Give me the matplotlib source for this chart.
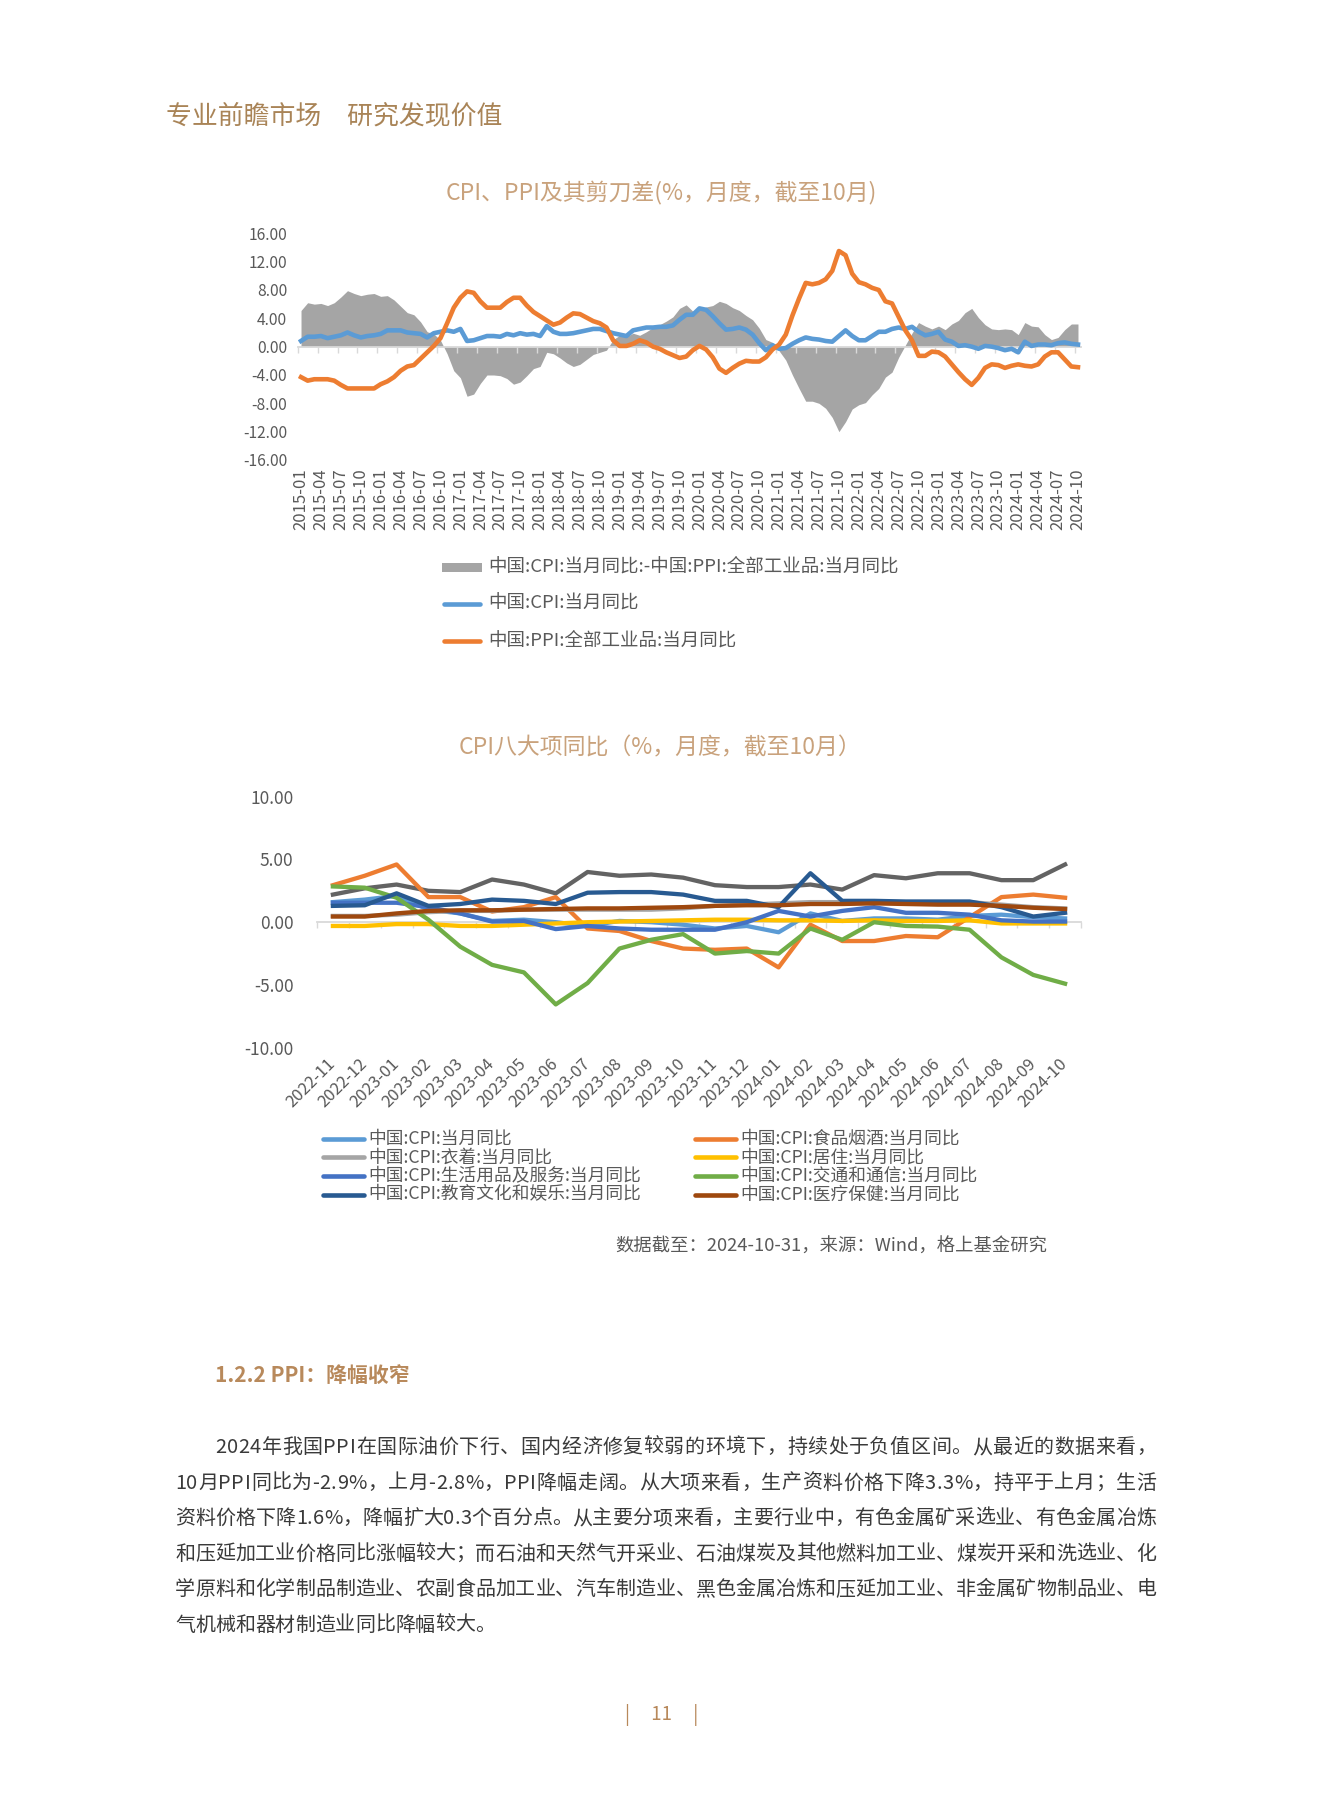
import numpy as np
import pandas as pd
import matplotlib
matplotlib.use('Agg')
import matplotlib.pyplot as plt
from matplotlib.lines import Line2D
from matplotlib.patches import Rectangle
from matplotlib.font_manager import FontProperties

plt.rcParams['font.family'] = ['Noto Sans CJK SC', 'DejaVu Sans']
plt.rcParams['axes.unicode_minus'] = False

# ---------------- data: chart 1 ----------------
months1 = pd.period_range('2015-01', '2024-10', freq='M').strftime('%Y-%m').tolist()
cpi = [0.8, 1.4, 1.4, 1.5, 1.2, 1.4, 1.6, 2.0, 1.6, 1.3, 1.5, 1.6,
       1.8, 2.3, 2.3, 2.3, 2.0, 1.9, 1.8, 1.3, 1.9, 2.1, 2.3, 2.1,
       2.5, 0.8, 0.9, 1.2, 1.5, 1.5, 1.4, 1.8, 1.6, 1.9, 1.7, 1.8,
       1.5, 2.9, 2.1, 1.8, 1.8, 1.9, 2.1, 2.3, 2.5, 2.5, 2.2, 1.9,
       1.7, 1.5, 2.3, 2.5, 2.7, 2.7, 2.8, 2.8, 3.0, 3.8, 4.5, 4.5,
       5.4, 5.2, 4.3, 3.3, 2.4, 2.5, 2.7, 2.4, 1.7, 0.5, -0.5, 0.2,
       -0.3, -0.2, 0.4, 0.9, 1.3, 1.1, 1.0, 0.8, 0.7, 1.5, 2.3, 1.5,
       0.9, 0.9, 1.5, 2.1, 2.1, 2.5, 2.7, 2.5, 2.8, 2.1, 1.6, 1.8,
       2.1, 1.0, 0.7, 0.1, 0.2, 0.0, -0.3, 0.1, 0.0, -0.2, -0.5, -0.3,
       -0.8, 0.7, 0.1, 0.3, 0.3, 0.2, 0.5, 0.6, 0.4, 0.3]
ppi = [-4.3, -4.8, -4.6, -4.6, -4.6, -4.8, -5.4, -5.9, -5.9, -5.9, -5.9, -5.9,
       -5.3, -4.9, -4.3, -3.4, -2.8, -2.6, -1.7, -0.8, 0.1, 1.2, 3.3, 5.5,
       6.9, 7.8, 7.6, 6.4, 5.5, 5.5, 5.5, 6.3, 6.9, 6.9, 5.8, 4.9,
       4.3, 3.7, 3.1, 3.4, 4.1, 4.7, 4.6, 4.1, 3.6, 3.3, 2.7, 0.9,
       0.1, 0.1, 0.4, 0.9, 0.6, 0.0, -0.3, -0.8, -1.2, -1.6, -1.4, -0.5,
       0.1, -0.4, -1.5, -3.1, -3.7, -3.0, -2.4, -2.0, -2.1, -2.1, -1.5, -0.4,
       0.3, 1.7, 4.4, 6.8, 9.0, 8.8, 9.0, 9.5, 10.7, 13.5, 12.9, 10.3,
       9.1, 8.8, 8.3, 8.0, 6.4, 6.1, 4.2, 2.3, 0.9, -1.3, -1.3, -0.7,
       -0.8, -1.4, -2.5, -3.6, -4.6, -5.4, -4.4, -3.0, -2.5, -2.6, -3.0, -2.7,
       -2.5, -2.7, -2.8, -2.5, -1.4, -0.8, -0.8, -1.8, -2.8, -2.9]
spread = [5.1, 6.2, 6.0, 6.1, 5.8, 6.2, 7.0, 7.9, 7.5, 7.2, 7.4, 7.5,
          7.1, 7.2, 6.6, 5.7, 4.8, 4.5, 3.5, 2.1, 1.8, 0.9, -1.0, -3.4,
          -4.4, -7.0, -6.7, -5.2, -4.0, -4.0, -4.1, -4.5, -5.3, -5.0, -4.1, -3.1,
          -2.8, -0.8, -1.0, -1.6, -2.3, -2.8, -2.5, -1.8, -1.1, -0.8, -0.5, 1.0,
          1.6, 1.4, 1.9, 1.6, 2.1, 2.7, 3.1, 3.6, 4.2, 5.4, 5.9, 5.0,
          5.3, 5.6, 5.8, 6.4, 6.1, 5.5, 5.1, 4.4, 3.8, 2.6, 1.0, 0.6,
          -0.6, -1.9, -4.0, -5.9, -7.7, -7.7, -8.0, -8.7, -10.0, -12.0, -10.6, -8.8,
          -8.2, -7.9, -6.8, -5.9, -4.3, -3.6, -1.5, 0.2, 1.9, 3.4, 2.9, 2.5,
          2.9, 2.4, 3.2, 3.7, 4.8, 5.4, 4.1, 3.1, 2.5, 2.4, 2.5, 2.4,
          1.7, 3.4, 2.9, 2.8, 1.7, 1.0, 1.3, 2.4, 3.2, 3.2]
yticks1 = [-16, -12, -8, -4, 0, 4, 8, 12, 16]

# ---------------- data: chart 2 ----------------
months2 = pd.period_range('2022-11', '2024-10', freq='M').strftime('%Y-%m').tolist()
s_other = [2.2, 2.7, 3.0, 2.5, 2.4, 3.4, 3.0, 2.3, 4.0, 3.7, 3.8, 3.55,
           2.95, 2.8, 2.8, 3.0, 2.6, 3.75, 3.5, 3.9, 3.9, 3.35, 3.35, 4.6]
s_cpi = [1.6, 1.8, 2.1, 1.0, 0.7, 0.1, 0.2, 0.0, -0.3, 0.1, 0.0, -0.2,
         -0.5, -0.3, -0.8, 0.7, 0.1, 0.3, 0.3, 0.2, 0.5, 0.6, 0.4, 0.3]
s_food = [2.95, 3.7, 4.6, 2.0, 2.0, 0.85, 1.2, 2.0, -0.5, -0.7, -1.5, -2.1,
          -2.2, -2.1, -3.6, -0.2, -1.5, -1.5, -1.1, -1.2, 0.4, 2.0, 2.2, 1.95]
s_cloth = [0.5, 0.5, 0.6, 0.8, 0.9, 0.9, 1.0, 1.0, 1.0, 1.0, 1.0, 1.1,
           1.3, 1.4, 1.5, 1.6, 1.6, 1.6, 1.6, 1.6, 1.6, 1.4, 1.2, 1.1]
s_house = [-0.3, -0.3, -0.15, -0.15, -0.3, -0.3, -0.2, -0.1, 0.0, 0.05, 0.1, 0.15,
           0.2, 0.2, 0.15, 0.15, 0.1, 0.15, 0.1, 0.1, 0.15, -0.1, -0.1, -0.1]
s_goods = [1.55, 1.55, 1.55, 1.2, 0.7, 0.05, 0.1, -0.55, -0.3, -0.5, -0.6, -0.6,
           -0.6, 0.0, 0.9, 0.45, 0.9, 1.2, 0.75, 0.75, 0.6, 0.15, 0.05, 0.05]
s_trans = [2.85, 2.75, 1.95, 0.2, -1.95, -3.4, -4.0, -6.55, -4.85, -2.1, -1.4, -0.95,
           -2.5, -2.3, -2.5, -0.5, -1.4, 0.0, -0.3, -0.35, -0.6, -2.8, -4.2, -4.9]
s_edu = [1.3, 1.35, 2.3, 1.3, 1.45, 1.8, 1.7, 1.45, 2.35, 2.4, 2.4, 2.2,
         1.7, 1.7, 1.2, 3.9, 1.7, 1.7, 1.65, 1.65, 1.65, 1.2, 0.45, 0.75]
s_med = [0.45, 0.45, 0.7, 0.9, 0.95, 0.95, 1.0, 1.05, 1.1, 1.1, 1.15, 1.2,
         1.3, 1.35, 1.35, 1.45, 1.45, 1.5, 1.45, 1.4, 1.4, 1.3, 1.15, 1.05]
yticks2 = [-10, -5, 0, 5, 10]

labels2 = ['中国:CPI:当月同比', '中国:CPI:食品烟酒:当月同比', '中国:CPI:衣着:当月同比',
           '中国:CPI:居住:当月同比', '中国:CPI:生活用品及服务:当月同比', '中国:CPI:交通和通信:当月同比',
           '中国:CPI:教育文化和娱乐:当月同比', '中国:CPI:医疗保健:当月同比']
colors2 = ['#5b9bd5', '#ed7d31', '#a5a5a5', '#ffc000', '#4472c4', '#70ad47', '#285a91', '#9e480e']
series2 = [s_cpi, s_food, s_cloth, s_house, s_goods, s_trans, s_edu, s_med]

# ---------------- figure ----------------
W, H = 1327, 1797
fig = plt.figure(figsize=(W / 100, H / 100), dpi=100)
fig.patch.set_facecolor('white')

def fx(x):
    return x / W

def fy(y):
    return 1 - y / H

def rect(left, right, top, bottom):
    return [left / W, 1 - bottom / H, (right - left) / W, (bottom - top) / H]

TICK = '#595959'
AXC = '#d9d9d9'

# header
fig.text(fx(166), fy(115.7), '专业前瞻市场\u3000研究发现价值', fontsize=18.6,
         color='#a98457', ha='left', va='center')

# ---------------- chart 1 ----------------
fig.text(fx(661), fy(192), 'CPI、PPI及其剪刀差(%，月度，截至10月)', fontsize=16.5,
         color='#c9a27c', ha='center', va='center')
ax1 = fig.add_axes(rect(297.7, 1081.3, 233.3, 460))
x1 = np.arange(len(months1))
ax1.fill_between(x1, spread, 0, color='#a5a5a5', lw=0, zorder=1)
ax1.plot(x1, cpi, color='#5b9bd5', lw=3.3, zorder=4, solid_joinstyle='round')
ax1.plot(x1, ppi, color='#ed7d31', lw=3.3, zorder=5, solid_joinstyle='round')
ax1.set_xlim(-0.5, len(months1) - 0.5)
ax1.set_ylim(-16, 16)
ax1.set_yticks(yticks1)
ax1.set_yticklabels([f'{v:.2f}' for v in yticks1])
for s in ['top', 'right', 'left']:
    ax1.spines[s].set_visible(False)
ax1.spines['bottom'].set_position(('data', 0))
ax1.spines['bottom'].set_color(AXC)
ax1.spines['bottom'].set_linewidth(1.3)
ax1.spines['bottom'].set_zorder(3)
ax1.set_xticks(np.arange(-0.5, len(months1), 3))
ax1.tick_params(axis='x', length=4, width=1, color=AXC, labelbottom=False)
ax1.tick_params(axis='y', length=0, pad=7.5, labelsize=11.2, labelcolor=TICK)
ax1.patch.set_alpha(0)
sec1 = ax1.secondary_xaxis(0.0)
sec1.set_xticks(x1[::3])
sec1.set_xticklabels(months1[::3], rotation=90)
sec1.tick_params(length=0, pad=6, labelsize=12, labelcolor=TICK)
sec1.spines['bottom'].set_visible(False)

# legend chart 1 (manual)
lg_fs = 13.3
fig.add_artist(Rectangle((fx(442), fy(567 + 4.5)), (482 - 442) / W, 9 / H,
                         transform=fig.transFigure, color='#a5a5a5', lw=0))
fig.text(fx(488), fy(567), '中国:CPI:当月同比:-中国:PPI:全部工业品:当月同比', fontsize=lg_fs,
         color=TICK, ha='left', va='center')
for yy, col, lab in [(604, '#5b9bd5', '中国:CPI:当月同比'), (641, '#ed7d31', '中国:PPI:全部工业品:当月同比')]:
    fig.add_artist(Line2D([fx(444), fx(480)], [fy(yy), fy(yy)], transform=fig.transFigure,
                          color=col, lw=3.3, solid_capstyle='round'))
    fig.text(fx(488), fy(yy), lab, fontsize=lg_fs, color=TICK, ha='left', va='center')

# ---------------- chart 2 ----------------
fig.text(fx(660), fy(748), 'CPI八大项同比（%，月度，截至10月）', fontsize=16.5,
         color='#c9a27c', ha='center', va='center')
ax2 = fig.add_axes(rect(317, 1081, 796.7, 1047.7))
x2 = np.arange(len(months2))
ax2.plot(x2, s_other, color='#636363', lw=3.1, zorder=3, solid_joinstyle='round')
for k, (ser, col) in enumerate(zip(series2, colors2)):
    ax2.plot(x2, ser, color=col, lw=3.1, zorder=4 + k, solid_joinstyle='round')
ax2.set_xlim(-0.5, len(months2) - 0.5)
ax2.set_ylim(-10, 10)
ax2.set_yticks(yticks2)
ax2.set_yticklabels([f'{v:.2f}' for v in yticks2])
for s in ['top', 'right', 'left']:
    ax2.spines[s].set_visible(False)
ax2.spines['bottom'].set_position(('data', 0))
ax2.spines['bottom'].set_color(AXC)
ax2.spines['bottom'].set_linewidth(1.3)
ax2.spines['bottom'].set_zorder(2)
ax2.set_xticks(np.arange(-0.5, len(months2), 1))
ax2.tick_params(axis='x', length=4, width=1, color=AXC, labelbottom=False)
ax2.tick_params(axis='y', length=0, pad=17, labelsize=12.5, labelcolor=TICK)
ax2.patch.set_alpha(0)
sec2 = ax2.secondary_xaxis(0.0)
sec2.set_xticks(x2)
sec2.set_xticklabels(months2, rotation=45, ha='right', va='center', rotation_mode='anchor')
sec2.tick_params(length=0, pad=10, labelsize=12, labelcolor=TICK)
sec2.spines['bottom'].set_visible(False)

# legend chart 2 (manual, two columns, row-major)
rows_y = [1138.5, 1157.2, 1175.9, 1194.5]
cols_x = [(323, 364, 368), (695, 736, 740)]
for k, (lab, col) in enumerate(zip(labels2, colors2)):
    r, c = divmod(k, 2)
    hx0, hx1, tx = cols_x[c]
    yy = rows_y[r]
    fig.add_artist(Line2D([fx(hx0), fx(hx1)], [fy(yy), fy(yy)], transform=fig.transFigure,
                          color=col, lw=3.3, solid_capstyle='round'))
    fig.text(fx(tx), fy(yy), lab, fontsize=12.75, color=TICK, ha='left', va='center')

# source
fig.text(fx(615), fy(1247), '数据截至：2024-10-31，来源：Wind，格上基金研究', fontsize=13.2,
         color=TICK, ha='left', va='center')

# section heading
fig.text(fx(215), fy(1375.7), '1.2.2 PPI：降幅收窄', fontsize=15, fontweight='bold',
         color='#b8895b', ha='left', va='center')

# paragraph (justified)
para = ["2024年我国PPI在国际油价下行、国内经济修复较弱的环境下，持续处于负值区间。从最近的数据来看，",
        "10月PPI同比为-2.9%，上月-2.8%，PPI降幅走阔。从大项来看，生产资料价格下降3.3%，持平于上月；生活",
        "资料价格下降1.6%，降幅扩大0.3个百分点。从主要分项来看，主要行业中，有色金属矿采选业、有色金属冶炼",
        "和压延加工业价格同比涨幅较大；而石油和天然气开采业、石油煤炭及其他燃料加工业、煤炭开采和洗选业、化",
        "学原料和化学制品制造业、农副食品加工业、汽车制造业、黑色金属冶炼和压延加工业、非金属矿物制品业、电",
        "气机械和器材制造业同比降幅较大。"]
pfs = 14.4
fp = FontProperties(family=['Noto Sans CJK SC', 'DejaVu Sans'], size=pfs)
renderer = fig.canvas.get_renderer()
right_edge = 1156
em = pfs / 72 * 100
for li, line in enumerate(para):
    left = 215 if li == 0 else 175
    yc = 1445.5 + 35.5 * li
    ybase = yc + 0.38 * em
    widths = [renderer.get_text_width_height_descent(ch, fp, ismath=False)[0] for ch in line]
    total = sum(widths)
    if li < len(para) - 1 and len(line) > 1:
        gap = (right_edge - left - total) / (len(line) - 1)
    else:
        gap = 0
    xx = left
    for ch, w in zip(line, widths):
        fig.text(fx(xx), fy(ybase), ch, fontproperties=fp, color='#3a3a3a', ha='left', va='baseline')
        xx += w + gap

# page number
fig.text(fx(662), fy(1715.5), '|     11     |', fontsize=13.5, color='#b8895b', ha='center', va='center')

fig.savefig('out.png', dpi=100, facecolor='white')
